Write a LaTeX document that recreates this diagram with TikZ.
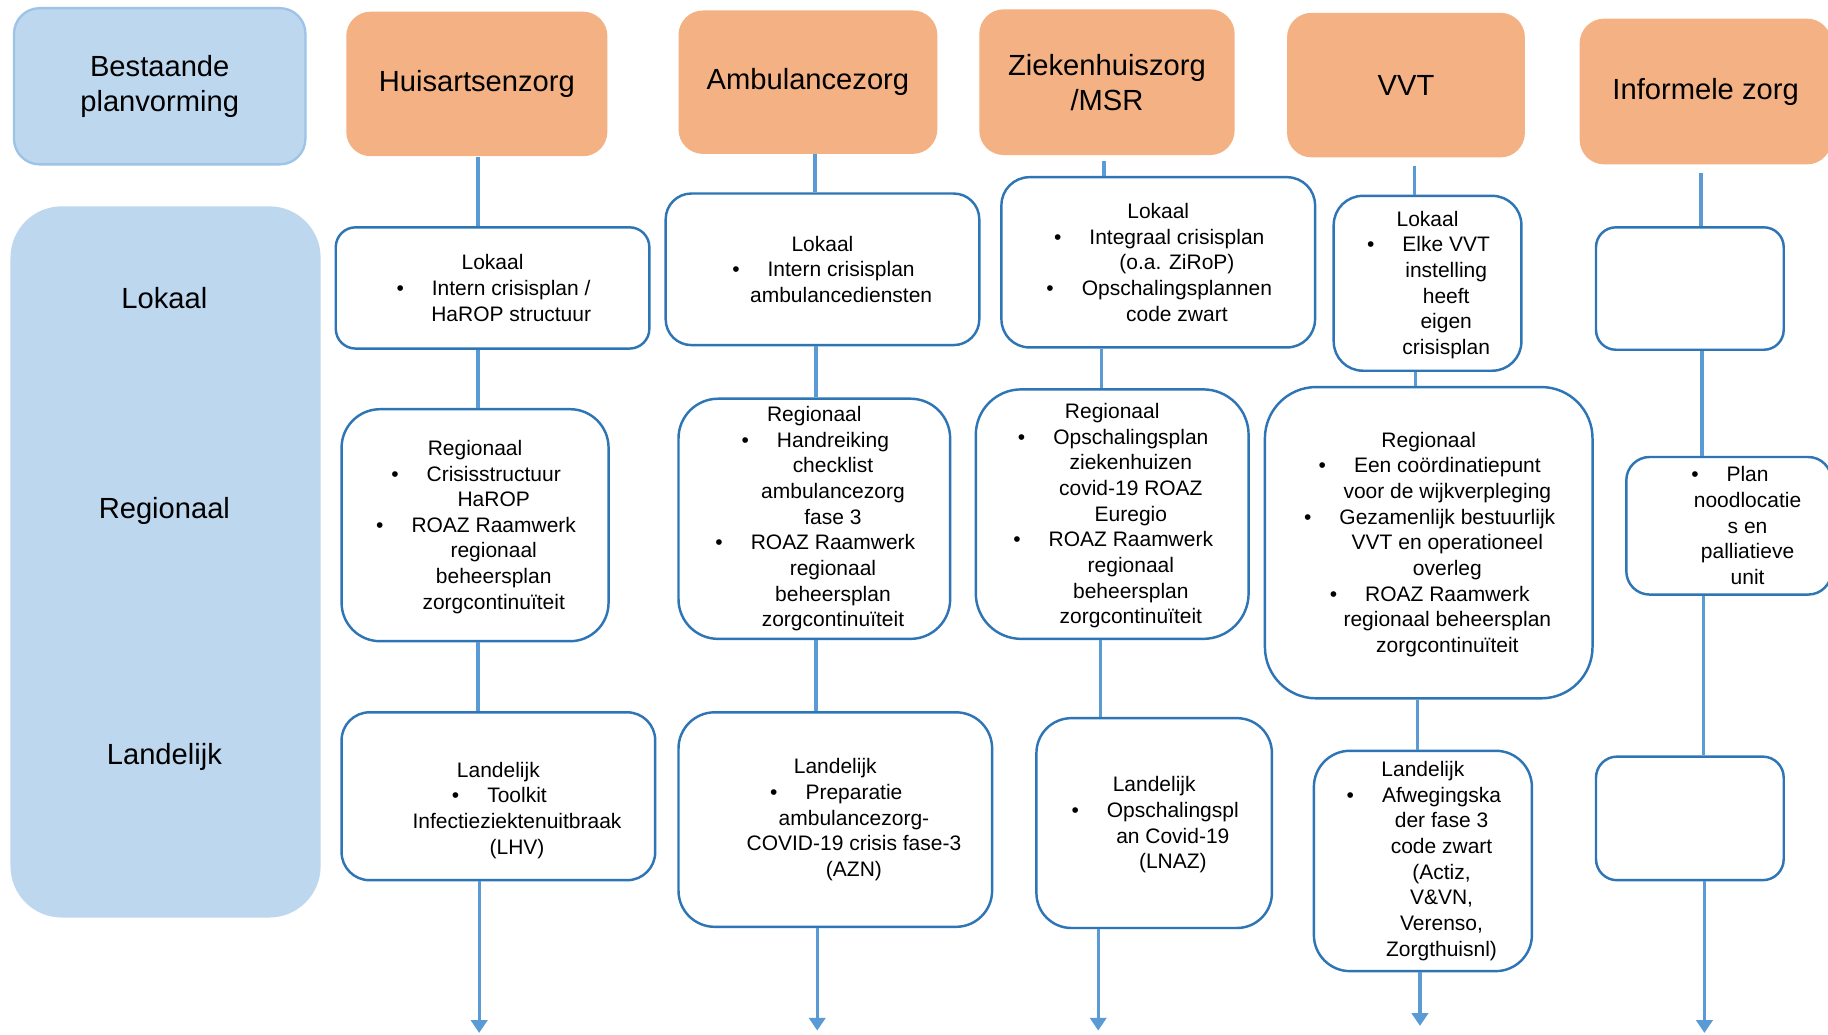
\documentclass[tikz,border=0pt]{standalone}
\usepackage{fontspec}
\setmainfont{Liberation Sans}
\usetikzlibrary{arrows.meta}
\definecolor{orng}{HTML}{F4B183}
\definecolor{lblue}{HTML}{BDD7EE}
\definecolor{lblueline}{HTML}{9DC3E6}
\definecolor{boxline}{HTML}{2E75B6}
\definecolor{connc}{HTML}{5B9BD5}
\newcommand\bitm[1]{\hspace*{16pt}\llap{\textbullet\hspace{12pt}}#1}
\newcommand\citm[1]{\hspace*{16pt}#1}
\begin{document}
\begin{tikzpicture}[x=0.5pt,y=-0.5pt,
  geo/.style n args={3}{minimum width=#1, minimum height=#2, rounded corners=#3},
  bigtxt/.style={font=\fontsize{12.5pt}{15pt}\selectfont, align=center, text=black},
  smalltxt/.style={font=\fontsize{9pt}{11pt}\selectfont, align=center, text=black},
  lbox/.style={bigtxt, fill=lblue, inner sep=2pt},
  hdr/.style={bigtxt, fill=orng, inner sep=2pt},
  wbox/.style={smalltxt, draw=boxline, line width=1.05pt, fill=white, inner sep=2pt},
  lbl/.style={bigtxt, inner sep=1pt},
  conn/.style={draw=connc, line width=1.4pt},
  arr/.style={conn, -{Triangle[width=7pt,length=5.5pt]}}
]
\useasboundingbox (0,0) rectangle (1568,887);
\fill[white] (0,0) rectangle (1568,887);

% left column
\node[lbox, draw=lblueline, line width=1pt, geo={125pt}{67pt}{11pt}] (best) at (137,74) {Bestaande\\planvorming};
\node[lbox, geo={133pt}{305pt}{22pt}] (lvl) at (142,482) {};
\node[lbl] (tlok) at (141,256) {Lokaal};
\node[lbl] (treg) at (141,438) {Regionaal};
\node[lbl] (tlan) at (141,649) {Landelijk};

% headers
\node[hdr, geo={112pt}{62pt}{10.5pt}] (h1) at (409,72) {\rule{0pt}{8pt}Huisartsenzorg};
\node[hdr, geo={111pt}{61.5pt}{10.5pt}] (h2) at (693,70.5) {\rule{0pt}{8pt}Ambulancezorg};
\node[hdr, geo={109.5pt}{62.5pt}{10.5pt}] (h3) at (949.5,70.5) {Ziekenhuiszorg\\/MSR};
\node[hdr, geo={102pt}{62pt}{10.5pt}] (h4) at (1206,73) {\rule{0pt}{8pt}VVT};
\node[hdr, geo={108pt}{62.5pt}{10.5pt}] (h5) at (1463,78.5) {\rule{0pt}{8pt}Informele zorg};

% column 1
\node[wbox, geo={134.5pt}{52pt}{8.5pt}] (l1) at (422.5,247)
  {Lokaal\\\bitm{Intern crisisplan /}\\\citm{HaROP structuur}};
\node[wbox, geo={114.5pt}{99.5pt}{16.5pt}] (r1) at (407.5,450.5)
  {\rule{0pt}{8pt}Regionaal\\\bitm{Crisisstructuur}\\\citm{HaROP}\\\bitm{ROAZ Raamwerk}\\\citm{regionaal}\\\citm{beheersplan}\\\citm{zorgcontinuïteit}};
\node[wbox, geo={134.5pt}{72pt}{12pt}] (n1) at (427.5,683)
  {\rule{0pt}{7.5pt}\\Landelijk\\\bitm{Toolkit}\\\citm{Infectieziektenuitbraak}\\\citm{(LHV)}};

% column 2
\node[wbox, geo={134.5pt}{65pt}{11pt}] (l2) at (705.5,231)
  {Lokaal\\\bitm{Intern crisisplan}\\\citm{ambulancediensten}};
\node[wbox, geo={116.5pt}{103pt}{17pt}] (r2) at (698.5,445)
  {Regionaal\\\bitm{Handreiking}\\\citm{checklist}\\\citm{ambulancezorg}\\\citm{fase 3}\\\bitm{ROAZ Raamwerk}\\\citm{regionaal}\\\citm{beheersplan}\\\citm{zorgcontinuïteit}};
\node[wbox, geo={134.5pt}{92pt}{15.5pt}] (n2) at (716.5,703)
  {Landelijk\\\bitm{Preparatie}\\\citm{ambulancezorg-}\\\citm{COVID-19 crisis fase-3}\\\citm{(AZN)}};

% column 3
\node[wbox, geo={134.5pt}{73pt}{12pt}] (l3) at (993.5,225)
  {Lokaal\\\bitm{Integraal crisisplan}\\\citm{(o.a. ZiRoP)}\\\bitm{Opschalingsplannen}\\\citm{code zwart}};
\node[wbox, geo={117pt}{107pt}{19.5pt}] (r3) at (954,441)
  {\rule{0pt}{8pt}Regionaal\\\bitm{Opschalingsplan}\\\citm{ziekenhuizen}\\\citm{covid-19 ROAZ}\\\citm{Euregio}\\\bitm{ROAZ Raamwerk}\\\citm{regionaal}\\\citm{beheersplan}\\\citm{zorgcontinuïteit}};
\node[wbox, geo={101pt}{90pt}{15pt}] (n3) at (990,706)
  {\rule{0pt}{8pt}Landelijk\\\bitm{Opschalingspl}\\\citm{an Covid-19}\\\citm{(LNAZ)}};

% column 4
\node[wbox, geo={80.5pt}{75pt}{12.5pt}] (l4) at (1224.5,243)
  {\rule{0pt}{8pt}Lokaal\\\bitm{Elke VVT}\\\citm{instelling}\\\citm{heeft}\\\citm{eigen}\\\citm{crisisplan}};
\node[wbox, geo={140.5pt}{133.5pt}{22pt}] (r4) at (1225.5,465.5)
  {\rule{0pt}{8pt}Regionaal\\\bitm{Een coördinatiepunt}\\\citm{voor de wijkverpleging}\\\bitm{Gezamenlijk bestuurlijk}\\\citm{VVT en operationeel}\\\citm{overleg}\\\bitm{ROAZ Raamwerk}\\\citm{regionaal beheersplan}\\\citm{zorgcontinuïteit}};
\node[wbox, geo={93.5pt}{94.5pt}{15.5pt}] (n4) at (1220.5,738.5)
  {Landelijk\\\bitm{Afwegingska}\\\citm{der fase 3}\\\citm{code zwart}\\\citm{(Actiz,}\\\citm{V\&VN,}\\\citm{Verenso,}\\\citm{Zorgthuisnl)}};

% column 5
\node[wbox, geo={80.5pt}{52.5pt}{8.5pt}] (l5) at (1449.5,247.5) {};
\node[wbox, geo={88pt}{59pt}{10pt}] (r5) at (1483,451)
  {\bitm{Plan}\\\citm{noodlocatie}\\\citm{s en}\\\citm{palliatieve}\\\citm{unit}};
\node[wbox, geo={80.5pt}{53pt}{9pt}] (n5) at (1449.5,702) {};

% line positions
\coordinate (c1) at (410,0);
\coordinate (c2a) at (699,0); \coordinate (c2b) at (700,0); \coordinate (c2c) at (700,0);
\coordinate (c3a) at (947,0); \coordinate (c3b) at (945,0); \coordinate (c3c) at (944,0);
\coordinate (c4a) at (1213,0); \coordinate (c4b) at (1214,0); \coordinate (c4c) at (1216,0);
\coordinate (c5a) at (1459,0); \coordinate (c5b) at (1460,0); \coordinate (c5c) at (1461,0);
\coordinate (e1) at (411,886);
\coordinate (e2) at (701,884);
\coordinate (e3) at (942,884);
\coordinate (e4) at (1218,880);
\coordinate (e5) at (1462,886);

\draw[conn] (h1.south -| c1) -- (l1.north -| c1);
\draw[conn] (l1.south -| c1) -- (r1.north -| c1);
\draw[conn] (r1.south -| c1) -- (n1.north -| c1);
\draw[arr] (n1.south -| e1) -- (e1);

\draw[conn] (h2.south -| c2a) -- (l2.north -| c2a);
\draw[conn] (l2.south -| c2b) -- (r2.north -| c2b);
\draw[conn] (r2.south -| c2c) -- (n2.north -| c2c);
\draw[arr] (n2.south -| e2) -- (e2);

\draw[conn, shorten <=2.5pt] (h3.south -| c3a) -- (l3.north -| c3a);
\draw[conn] (l3.south -| c3b) -- (r3.north -| c3b);
\draw[conn] (r3.south -| c3c) -- (n3.north -| c3c);
\draw[arr] (n3.south -| e3) -- (e3);

\draw[conn, shorten <=3.5pt] (h4.south -| c4a) -- (l4.north -| c4a);
\draw[conn] (l4.south -| c4b) -- (r4.north -| c4b);
\draw[conn] (r4.south -| c4c) -- (n4.north -| c4c);
\draw[arr] (n4.south -| e4) -- (e4);

\draw[conn, shorten <=3.5pt] (h5.south -| c5a) -- (l5.north -| c5a);
\draw[conn] (l5.south -| c5b) -- (r5.north -| c5b);
\draw[conn] (r5.south -| c5c) -- (n5.north -| c5c);
\draw[arr] (n5.south -| e5) -- (e5);
\end{tikzpicture}
\end{document}
